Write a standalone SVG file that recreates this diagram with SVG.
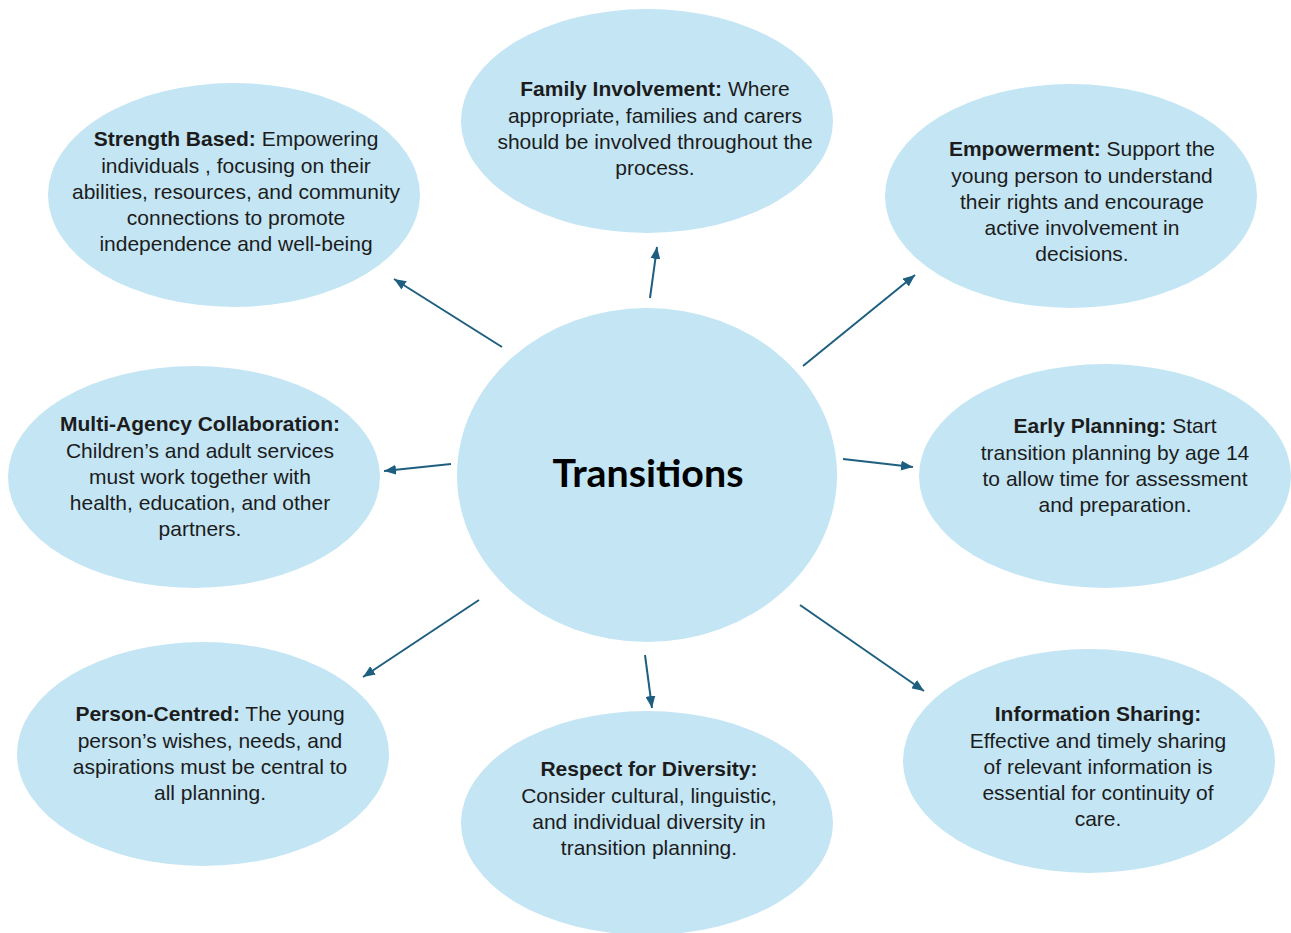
<svg xmlns="http://www.w3.org/2000/svg" width="1291" height="933" viewBox="0 0 1291 933">
<style>
.n{fill:#c3e5f4}
.t{font-family:"Liberation Sans",Arial,sans-serif;font-size:21px;fill:#1c1c1c;text-anchor:middle}
.b{font-weight:bold}
.c{stroke:#1e5f80;stroke-width:2;fill:none;marker-end:url(#ah)}
.h{font-family:Lato,"Open Sans",sans-serif;font-weight:bold;font-size:38px;fill:#000;text-anchor:middle}
</style>
<defs>
<marker id="ah" markerUnits="userSpaceOnUse" markerWidth="12" markerHeight="10" refX="12" refY="5" orient="auto">
<path d="M0,0 L12,5 L0,10 z" fill="#1e5f80"/>
</marker>
</defs>
<rect width="1291" height="933" fill="#ffffff"/>
<g id="transitions">
<ellipse class="n" cx="647" cy="475" rx="190" ry="167"/>
<text class="h" x="648" y="487" textLength="191" lengthAdjust="spacingAndGlyphs">Transitions</text>
</g>
<g id="family">
<ellipse class="n" cx="647" cy="121" rx="186" ry="112"/>
<text class="t" x="655" y="96"><tspan class="b">Family Involvement:</tspan> Where</text>
<text class="t" x="655" y="123">appropriate, families and carers</text>
<text class="t" x="655" y="149">should be involved throughout the</text>
<text class="t" x="655" y="175">process.</text>
</g>
<g id="strength">
<ellipse class="n" cx="234" cy="195" rx="186" ry="112"/>
<text class="t" x="236" y="146"><tspan class="b">Strength Based:</tspan> Empowering</text>
<text class="t" x="236" y="173">individuals , focusing on their</text>
<text class="t" x="236" y="199">abilities, resources, and community</text>
<text class="t" x="236" y="225">connections to promote</text>
<text class="t" x="236" y="251">independence and well-being</text>
</g>
<g id="empowerment">
<ellipse class="n" cx="1071" cy="196" rx="186" ry="112"/>
<text class="t" x="1082" y="156"><tspan class="b">Empowerment:</tspan> Support the</text>
<text class="t" x="1082" y="183">young person to understand</text>
<text class="t" x="1082" y="209">their rights and encourage</text>
<text class="t" x="1082" y="235">active involvement in</text>
<text class="t" x="1082" y="261">decisions.</text>
</g>
<g id="multiagency">
<ellipse class="n" cx="194" cy="477" rx="186" ry="111"/>
<text class="t b" x="200" y="431">Multi-Agency Collaboration:</text>
<text class="t" x="200" y="458">Children’s and adult services</text>
<text class="t" x="200" y="484">must work together with</text>
<text class="t" x="200" y="510">health, education, and other</text>
<text class="t" x="200" y="536">partners.</text>
</g>
<g id="earlyplanning">
<ellipse class="n" cx="1105" cy="476" rx="186" ry="112"/>
<text class="t" x="1115" y="433"><tspan class="b">Early Planning:</tspan> Start</text>
<text class="t" x="1115" y="460">transition planning by age 14</text>
<text class="t" x="1115" y="486">to allow time for assessment</text>
<text class="t" x="1115" y="512">and preparation.</text>
</g>
<g id="personcentred">
<ellipse class="n" cx="203" cy="754" rx="186" ry="112"/>
<text class="t" x="210" y="721"><tspan class="b">Person-Centred:</tspan> The young</text>
<text class="t" x="210" y="748">person’s wishes, needs, and</text>
<text class="t" x="210" y="774">aspirations must be central to</text>
<text class="t" x="210" y="800">all planning.</text>
</g>
<g id="diversity">
<ellipse class="n" cx="647" cy="823" rx="186" ry="112"/>
<text class="t b" x="649" y="776">Respect for Diversity:</text>
<text class="t" x="649" y="803">Consider cultural, linguistic,</text>
<text class="t" x="649" y="829">and individual diversity in</text>
<text class="t" x="649" y="855">transition planning.</text>
</g>
<g id="information">
<ellipse class="n" cx="1089" cy="761" rx="186" ry="112"/>
<text class="t b" x="1098" y="721">Information Sharing:</text>
<text class="t" x="1098" y="748">Effective and timely sharing</text>
<text class="t" x="1098" y="774">of relevant information is</text>
<text class="t" x="1098" y="800">essential for continuity of</text>
<text class="t" x="1098" y="826">care.</text>
</g>
<g id="connectors">
<line class="c" x1="650" y1="298" x2="657" y2="247"/>
<line class="c" x1="502" y1="347" x2="394" y2="279"/>
<line class="c" x1="803" y1="366" x2="915" y2="275"/>
<line class="c" x1="451" y1="464" x2="384" y2="471"/>
<line class="c" x1="843" y1="459" x2="913" y2="467"/>
<line class="c" x1="479" y1="600" x2="363" y2="677"/>
<line class="c" x1="645" y1="655" x2="652" y2="708"/>
<line class="c" x1="800" y1="605" x2="924" y2="691"/>
</g>
</svg>
